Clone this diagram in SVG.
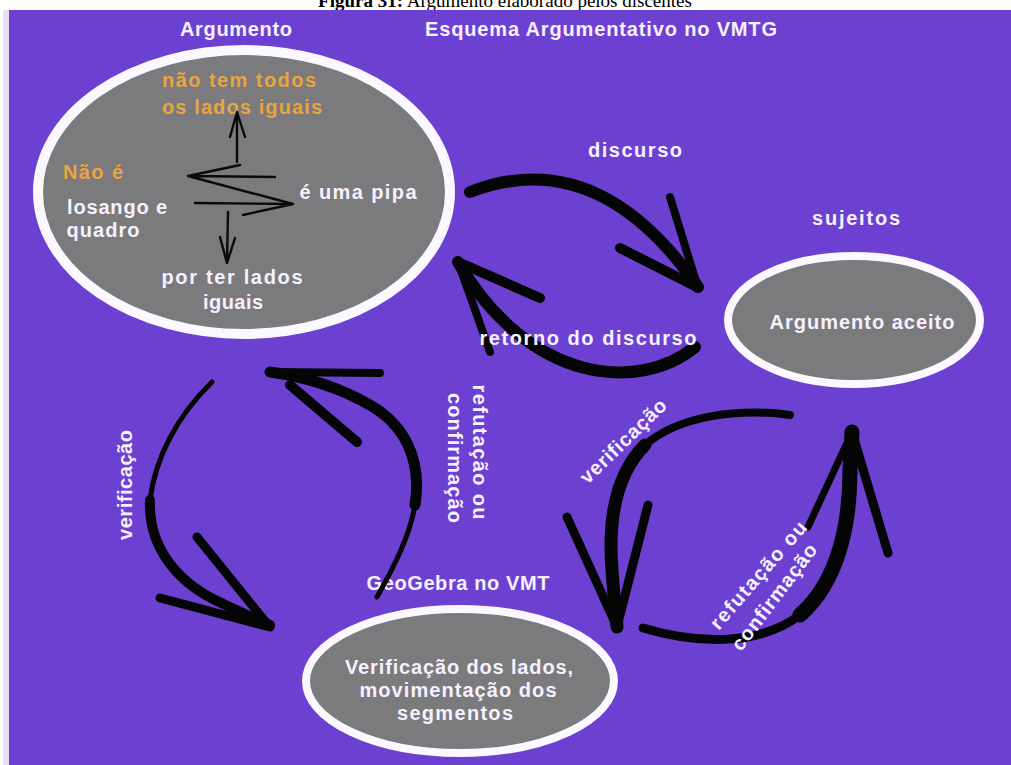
<svg xmlns="http://www.w3.org/2000/svg" width="1011" height="765" viewBox="0 0 1011 765">
<style>
.bg{fill:#6c41d1}
.node{fill:#7b7a7c;stroke:#fbf8ff}
.t{font-family:"Liberation Sans",Arial,sans-serif;font-size:20px;font-weight:bold;fill:#f6f0ff;text-anchor:middle}
.o{fill:#eaa43f}
.thin{fill:none;stroke:#0a0a0a;stroke-width:2.4;stroke-linecap:round;stroke-linejoin:round}
.brush{fill:none;stroke:#050505;stroke-linecap:round;stroke-linejoin:round}
.title{font-family:"Liberation Serif","Times New Roman",serif;font-size:19px;fill:#000;text-anchor:middle}
</style>
<rect x="0" y="0" width="1011" height="765" fill="#ffffff"/>
<text class="title" x="505" y="7"><tspan font-weight="bold">Figura 31:</tspan> Argumento elaborado pelos discentes</text>
<rect x="3" y="10" width="7" height="755" fill="#e7dff3"/>
<rect class="bg" x="9" y="10" width="1002" height="755"/>

<g id="labels-top">
<text class="t" x="236" y="36" textLength="112">Argumento</text>
<text class="t" x="601" y="36" textLength="352">Esquema Argumentativo no VMTG</text>
</g>

<g id="node-argumento">
<ellipse class="node" cx="244" cy="192" rx="206" ry="142" stroke-width="10"/>
<text class="t o" x="239" y="87" textLength="154">não tem todos</text>
<text class="t o" x="242" y="114" textLength="160">os lados iguais</text>
<text class="t o" x="93" y="179" textLength="60">Não é</text>
<text class="t" x="117" y="214" textLength="100">losango e</text>
<text class="t" x="103" y="237" textLength="73">quadro</text>
<text class="t" x="358" y="199" textLength="117">é uma pipa</text>
<text class="t" x="232" y="284" textLength="141">por ter lados</text>
<text class="t" x="233" y="309" textLength="60">iguais</text>
<path class="thin" d="M237,162 L237,112 M230,137 L237,112 L245,137"/>
<path class="thin" d="M275,177 L188,176 M240,165 L188,176 L293,204 M195,203 L293,204 L243,215"/>
<path class="thin" d="M228,212 L227,263 M220,237 L227,263 L235,238"/>
</g>

<g id="node-aceito">
<text class="t" x="856" y="225" textLength="88">sujeitos</text>
<ellipse class="node" cx="854" cy="320" rx="126" ry="64" stroke-width="8"/>
<text class="t" x="862" y="329" textLength="185">Argumento aceito</text>
</g>

<g id="node-geogebra">
<text class="t" x="458" y="590" textLength="183">GeoGebra no VMT</text>
<ellipse class="node" cx="460" cy="681" rx="154" ry="72" stroke-width="8"/>
<text class="t" x="459" y="674" textLength="228">Verificação dos lados,</text>
<text class="t" x="458" y="697" textLength="197">movimentação dos</text>
<text class="t" x="455" y="720" textLength="116">segmentos</text>
</g>

<g id="connectors">
<!-- discurso -->
<path class="brush" stroke-width="12" d="M470,192 C540,165 620,175 698,287"/>
<path class="brush" stroke-width="8" d="M670,197 L698,288"/>
<path class="brush" stroke-width="10" d="M620,248 L697,287"/>
<!-- retorno do discurso -->
<path class="brush" stroke-width="12" d="M695,347 C640,392 530,385 458,262"/>
<path class="brush" stroke-width="10" d="M458,262 L540,298"/>
<path class="brush" stroke-width="8" d="M458,262 L490,352"/>
<!-- verificacao left -->
<path class="brush" stroke-width="5" d="M212,382 C175,418 155,460 150,500"/>
<path class="brush" stroke-width="10" d="M150,500 C148,545 175,580 215,600 C240,612 255,619 270,625"/>
<path class="brush" stroke-width="9" d="M197,537 L268,625"/>
<path class="brush" stroke-width="9" d="M160,598 L270,627"/>
<!-- refutacao middle -->
<path class="brush" stroke-width="5" d="M377,597 C395,565 410,535 415,505"/>
<path class="brush" stroke-width="11" d="M415,505 C422,460 405,425 370,405 C335,385 300,376 270,372"/>
<path class="brush" stroke-width="8" d="M270,372 L380,373"/>
<path class="brush" stroke-width="10" d="M290,385 L357,442"/>
<!-- verificacao right -->
<path class="brush" stroke-width="8" d="M790,415 C740,408 680,415 645,445"/>
<path class="brush" stroke-width="13" d="M645,445 C615,475 608,520 612,570 C614,600 616,615 617,627"/>
<path class="brush" stroke-width="9" d="M567,517 L617,627"/>
<path class="brush" stroke-width="9" d="M648,505 L617,627"/>
<!-- refutacao right -->
<path class="brush" stroke-width="9" d="M643,628 C700,645 760,645 800,615"/>
<path class="brush" stroke-width="15" d="M800,615 C840,580 850,520 850,470 L852,432"/>
<path class="brush" stroke-width="9" d="M852,432 L888,553"/>
<path class="brush" stroke-width="7" d="M852,432 L808,527"/>
</g>

<g id="connector-labels">
<text class="t" x="635" y="157" textLength="94">discurso</text>
<text class="t" x="588" y="345" textLength="217">retorno do discurso</text>
<text class="t" transform="translate(125,485) rotate(-90)" x="0" y="7" textLength="110">verificação</text>
<text class="t" transform="translate(480,452) rotate(90)" x="0" y="7" textLength="135">refutação ou</text>
<text class="t" transform="translate(455,458) rotate(90)" x="0" y="7" textLength="130">confirmação</text>
<text class="t" transform="translate(623,441) rotate(-44)" x="0" y="7" textLength="112">verificação</text>
<text class="t" transform="translate(758,575) rotate(-49)" x="0" y="7" textLength="136">refutação ou</text>
<text class="t" transform="translate(774,597) rotate(-53)" x="0" y="7" textLength="128">confirmação</text>
</g>
</svg>
